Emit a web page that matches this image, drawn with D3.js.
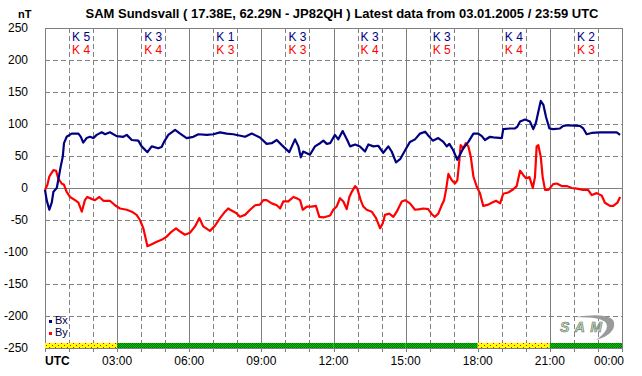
<!DOCTYPE html>
<html>
<head>
<meta charset="utf-8">
<script src="https://cdn.jsdelivr.net/npm/d3@7"></script>
<style>
  body { margin: 0; background: #fff; }
  svg { display: block; font-family: Arial, "Liberation Sans", sans-serif; }
</style>
</head>
<body>
<svg></svg>
<script>
// Data: [hour UTC, nT]
const bxData = [
  [0.00,-3],[0.07,-19],[0.18,-34],[0.28,-23],[0.35,-6],[0.49,0],[0.55,12],[0.65,33],[0.74,49],[0.79,70],
  [0.90,80],[1.11,85],[1.39,85],[1.49,80],[1.59,71],[1.73,78],[1.87,80],[2.01,78],[2.15,83],[2.36,87],
  [2.50,84],[2.70,87],[2.98,81],[3.26,80],[3.40,83],[3.61,75],[3.88,74],[4.02,65],[4.26,56],[4.44,65],
  [4.71,62],[4.85,64],[4.95,72],[5.13,83],[5.41,91],[5.62,85],[5.89,78],[6.17,80],[6.38,84],[6.73,83],
  [7.00,84],[7.28,87],[7.56,85],[7.83,84],[8.08,82],[8.32,80],[8.60,85],[8.94,79],[9.22,69],[9.43,70],
  [9.64,75],[9.85,67],[10.16,56],[10.40,76],[10.54,65],[10.64,48],[10.74,57],[11.02,52],[11.23,65],[11.44,70],
  [11.58,74],[11.72,69],[11.86,70],[12.06,83],[12.20,76],[12.38,89],[12.57,75],[12.69,65],[12.90,68],[13.10,65],
  [13.31,57],[13.45,68],[13.66,65],[13.86,66],[14.07,55],[14.28,65],[14.42,57],[14.60,40],[14.77,45],[14.98,59],
  [15.18,72],[15.39,76],[15.60,85],[15.81,88],[15.94,82],[16.13,74],[16.36,78],[16.57,72],[16.71,65],[16.82,69],
  [16.98,59],[17.15,44],[17.26,52],[17.40,62],[17.61,72],[17.82,85],[18.02,85],[18.17,81],[18.30,75],[18.51,80],
  [18.65,79],[19.00,78],[19.06,92],[19.34,93],[19.55,93],[19.65,96],[19.76,104],[19.97,107],[20.17,104],[20.31,92],
  [20.42,102],[20.52,119],[20.62,136],[20.73,130],[20.84,111],[20.98,93],[21.14,92],[21.42,93],[21.56,97],[21.77,98],
  [22.25,97],[22.39,93],[22.53,84],[22.74,86],[23.09,87],[23.50,87],[23.78,87],[23.92,83]
];

const byData = [
  [0.00,-3],[0.10,5],[0.18,18],[0.35,28],[0.46,27],[0.55,15],[0.69,7],[0.79,5],[0.90,-6],[1.04,-14],
  [1.25,-19],[1.39,-23],[1.53,-37],[1.66,-19],[1.76,-14],[1.94,-17],[2.08,-19],[2.26,-14],[2.43,-20],[2.70,-20],
  [2.91,-27],[3.12,-32],[3.40,-34],[3.61,-37],[3.81,-42],[3.95,-50],[4.09,-63],[4.20,-81],[4.26,-91],[4.44,-88],
  [4.65,-84],[4.85,-81],[5.06,-76],[5.27,-68],[5.45,-63],[5.62,-68],[5.82,-73],[6.03,-70],[6.24,-60],[6.42,-47],
  [6.58,-60],[6.86,-67],[7.07,-59],[7.28,-47],[7.49,-37],[7.62,-32],[7.70,-34],[7.95,-39],[8.11,-45],[8.32,-42],
  [8.53,-34],[8.74,-27],[8.94,-26],[9.08,-19],[9.22,-19],[9.43,-24],[9.64,-27],[9.78,-32],[9.91,-21],[10.12,-21],
  [10.33,-14],[10.47,-16],[10.61,-19],[10.72,-34],[10.89,-29],[11.09,-29],[11.27,-28],[11.41,-45],[11.58,-46],[11.86,-43],
  [11.99,-34],[12.13,-29],[12.27,-16],[12.41,-21],[12.55,-33],[12.66,-14],[12.76,-6],[12.90,3],[12.99,-1],[13.13,-19],
  [13.24,-29],[13.38,-34],[13.59,-37],[13.77,-47],[13.94,-63],[14.05,-55],[14.14,-42],[14.32,-40],[14.49,-45],[14.63,-37],
  [14.84,-21],[14.98,-19],[15.18,-24],[15.39,-34],[15.60,-33],[15.74,-32],[15.94,-33],[16.09,-41],[16.22,-45],[16.36,-40],
  [16.50,-27],[16.60,-19],[16.68,-3],[16.78,22],[16.92,12],[17.05,7],[17.15,12],[17.23,41],[17.29,67],[17.40,62],
  [17.50,70],[17.61,65],[17.71,49],[17.82,18],[17.96,2],[18.09,-8],[18.23,-28],[18.44,-26],[18.58,-23],[18.76,-20],
  [18.93,-24],[19.06,-9],[19.27,-7],[19.48,-2],[19.62,3],[19.76,27],[19.90,20],[20.01,15],[20.15,17],[20.29,0],
  [20.38,17],[20.45,65],[20.52,67],[20.62,49],[20.70,17],[20.80,-3],[20.94,-3],[21.14,6],[21.29,7],[21.49,3],
  [21.70,3],[21.91,0],[22.12,-1],[22.38,-3],[22.59,-3],[22.74,-11],[22.95,-8],[23.16,-12],[23.29,-23],[23.50,-28],
  [23.64,-28],[23.81,-23],[23.92,-14]
];

// K indices for each 3-hour block
const kBx = [5, 3, 1, 3, 3, 3, 4, 2];
const kBy = [4, 4, 3, 3, 4, 5, 4, 3];
// status bar under the plot for each 3-hour block
const blockStatus = ["warn", "ok", "ok", "ok", "ok", "ok", "warn", "ok"];

const yTicks = [250, 200, 150, 100, 50, 0, -50, -100, -150, -200, -250];
const xTickLabels = ["03:00", "06:00", "09:00", "12:00", "15:00", "18:00", "21:00", "00:00"];

window.onload = function () {
    const width = 642;
    const height = 376;
    const margin = { top: 28, right: 20, bottom: 28, left: 45 };
    const innerWidth = width - margin.left - margin.right;
    const innerHeight = height - margin.top - margin.bottom;
    const gridColor = "#808080";

    const svg = d3.select("svg")
        .attr("width", width)
        .attr("height", height);

    // patterns for the status bar
    const defs = svg.append("defs");
    const pGreen = defs.append("pattern")
        .attr("id", "pGreen").attr("width", 2).attr("height", 2)
        .attr("patternUnits", "userSpaceOnUse");
    pGreen.append("rect").attr("width", 2).attr("height", 2).attr("fill", "#00c800");
    pGreen.append("rect").attr("width", 1).attr("height", 1).attr("fill", "#007000");
    pGreen.append("rect").attr("x", 1).attr("y", 1).attr("width", 1).attr("height", 1).attr("fill", "#007000");

    const pYellow = defs.append("pattern")
        .attr("id", "pYellow").attr("width", 6).attr("height", 4)
        .attr("patternUnits", "userSpaceOnUse");
    pYellow.append("rect").attr("width", 6).attr("height", 4).attr("fill", "#ffff00");
    pYellow.append("rect").attr("x", 1).attr("y", 1).attr("width", 1).attr("height", 1).attr("fill", "#ff0000");
    pYellow.append("rect").attr("x", 4).attr("y", 3).attr("width", 1).attr("height", 1).attr("fill", "#ff0000");

    const g = svg.append("g")
        .attr("transform", `translate(${margin.left}, ${margin.top})`);

    // Escalas
    const xScale = d3.scaleLinear().domain([0, 24]).range([0, innerWidth]);
    const yScale = d3.scaleLinear().domain([-250, 250]).range([innerHeight, 0]);

    // Horizontal grid
    g.selectAll(".hgrid")
        .data(yTicks)
        .enter()
        .append("line")
        .attr("class", "hgrid")
        .attr("x1", 0)
        .attr("x2", innerWidth)
        .attr("y1", d => Math.round(yScale(d)) + 0.5)
        .attr("y2", d => Math.round(yScale(d)) + 0.5)
        .attr("stroke", gridColor)
        .attr("stroke-width", 1)
        .attr("stroke-dasharray", d => (d === 0 || d === 250 || d === -250) ? null : "5,3");

    // Vertical grid, every hour (solid every 3 hours)
    const hours = d3.range(0, 25);
    g.selectAll(".vgrid")
        .data(hours)
        .enter()
        .append("line")
        .attr("class", "vgrid")
        .attr("x1", d => Math.round(xScale(d)) + 0.5)
        .attr("x2", d => Math.round(xScale(d)) + 0.5)
        .attr("y1", 0)
        .attr("y2", innerHeight + 4)
        .attr("stroke", gridColor)
        .attr("stroke-width", 1)
        .attr("stroke-dasharray", d => d % 3 === 0 ? null : "5,3");

    // tick stubs under the axis
    g.selectAll(".tick-stub")
        .data(hours)
        .enter()
        .append("line")
        .attr("x1", d => Math.round(xScale(d)) + 0.5)
        .attr("x2", d => Math.round(xScale(d)) + 0.5)
        .attr("y1", innerHeight)
        .attr("y2", innerHeight + 4)
        .attr("stroke", gridColor);

    // Status bar
    g.selectAll(".status")
        .data(blockStatus)
        .enter()
        .append("rect")
        .attr("x", (d, i) => xScale(i * 3))
        .attr("y", innerHeight - 5)
        .attr("width", xScale(3) - xScale(0))
        .attr("height", 5)
        .attr("fill", d => d === "warn" ? "url(#pYellow)" : "url(#pGreen)");

    // Y axis labels
    g.selectAll(".ylab")
        .data(yTicks)
        .enter()
        .append("text")
        .attr("x", -17)
        .attr("y", d => yScale(d) + 4)
        .attr("text-anchor", "end")
        .style("font-size", "12px")
        .attr("fill", "#000")
        .text(d => d);

    // X axis labels
    g.selectAll(".xlab")
        .data(xTickLabels)
        .enter()
        .append("text")
        .attr("x", (d, i) => xScale((i + 1) * 3))
        .attr("y", innerHeight + 17)
        .attr("text-anchor", (d, i) => i === xTickLabels.length - 1 ? "end" : "middle")
        .attr("dx", (d, i) => i === xTickLabels.length - 1 ? 2 : 0)
        .style("font-size", "12px")
        .text(d => d);

    g.append("text")
        .attr("x", 0)
        .attr("y", innerHeight + 17)
        .style("font-size", "12px")
        .style("font-weight", "bold")
        .text("UTC");

    // K index labels
    g.selectAll(".kbx")
        .data(kBx)
        .enter()
        .append("text")
        .attr("x", (d, i) => xScale(i * 3 + 1.5))
        .attr("y", 13)
        .attr("text-anchor", "middle")
        .style("font-size", "12px")
        .attr("fill", "#000080")
        .text(d => "K " + d);

    g.selectAll(".kby")
        .data(kBy)
        .enter()
        .append("text")
        .attr("x", (d, i) => xScale(i * 3 + 1.5))
        .attr("y", 26)
        .attr("text-anchor", "middle")
        .style("font-size", "12px")
        .attr("fill", "#ff0000")
        .text(d => "K " + d);

    // Lines
    const line = d3.line()
        .x(d => xScale(d[0]))
        .y(d => yScale(d[1]));

    g.append("path")
        .datum(byData)
        .attr("fill", "none")
        .attr("stroke", "#ff0000")
        .attr("stroke-width", 2.2)
        .attr("stroke-linejoin", "round")
        .attr("d", line);

    g.append("path")
        .datum(bxData)
        .attr("fill", "none")
        .attr("stroke", "#000080")
        .attr("stroke-width", 2.2)
        .attr("stroke-linejoin", "round")
        .attr("d", line);

    // Legend
    const legendData = [
        { color: "#000080", text: "Bx" },
        { color: "#ff0000", text: "By" }
    ];
    const legend = g.selectAll(".legend")
        .data(legendData)
        .enter()
        .append("g")
        .attr("transform", (d, i) => `translate(4, ${innerHeight - 25 + i * 12})`);
    legend.append("rect")
        .attr("x", 0).attr("y", -3)
        .attr("width", 3).attr("height", 3)
        .attr("fill", d => d.color);
    legend.append("text")
        .attr("x", 6)
        .attr("y", 1)
        .style("font-size", "11px")
        .attr("fill", "#000040")
        .text(d => d.text);

    // SAM logo (rough)
    const logo = g.append("g")
        .attr("transform", `translate(${innerWidth - 64}, ${innerHeight - 34})`);
    logo.append("path")
        .attr("d", "M18,3 Q52,-2 56,8 Q58,20 38,26 Q52,16 48,9 Q44,3 18,3 Z")
        .attr("fill", "#9a9a9a");
    logo.append("text")
        .attr("x", 2)
        .attr("y", 18)
        .style("font-size", "14px")
        .style("font-style", "italic")
        .style("font-weight", "bold")
        .attr("fill", "#b8e0b0")
        .attr("stroke", "#707070")
        .attr("stroke-width", 0.6)
        .attr("textLength", 42)
        .text("SAM");

    // Titles
    svg.append("text")
        .attr("x", 342)
        .attr("y", 18)
        .attr("text-anchor", "middle")
        .style("font-size", "13px")
        .style("font-weight", "bold")
        .text("SAM Sundsvall ( 17.38E, 62.29N - JP82QH ) Latest data from 03.01.2005 / 23:59 UTC");

    svg.append("text")
        .attr("x", 18)
        .attr("y", 18)
        .style("font-size", "11px")
        .style("font-weight", "bold")
        .text("nT");
};
</script>
</body>
</html>
